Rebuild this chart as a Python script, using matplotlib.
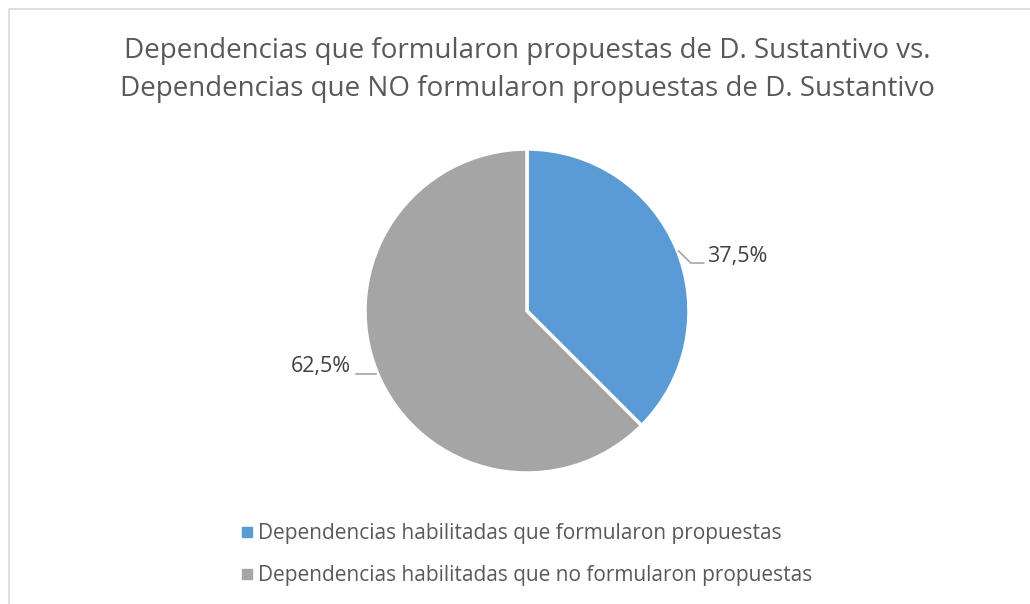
import numpy as np
import matplotlib
matplotlib.use("Agg")
import matplotlib.pyplot as plt
from matplotlib.lines import Line2D

plt.rcParams['font.family'] = ['Open Sans', 'DejaVu Sans']

# data
labels = ['Dependencias habilitadas que formularon propuestas',
          'Dependencias habilitadas que no formularon propuestas']
values = [37.5, 62.5]
colors = ['#5b9bd5', '#a5a5a5']
title = ('Dependencias que formularon propuestas de D. Sustantivo vs.\n'
         'Dependencias que NO formularon propuestas de D. Sustantivo')

W, H = 1030, 604
fig = plt.figure(figsize=(W / 100, H / 100), dpi=100)
ax = fig.add_axes([0, 0, 1, 1])

# chart border (cut off at right/bottom)
ax.plot([8.5, 8.5, W + 5], [-5, H - 8.5, H - 8.5], color='#d9d9d9', lw=1.2)

cx, cy, r = 527, H - 311, 162
wedges, _ = ax.pie(values, colors=colors, startangle=90, counterclock=False,
                   center=(cx, cy), radius=r, frame=True,
                   wedgeprops=dict(edgecolor='white', linewidth=2.5))
ax.set_xlim(0, W)
ax.set_ylim(0, H)
ax.set_aspect('equal')
ax.axis('off')

# data labels with leader lines
start = 90
for v, side in zip(values, [1, -1]):
    mid = np.deg2rad(start - v * 3.6 / 2)
    start -= v * 3.6
    ex, ey = cx + r * np.cos(mid), cy + r * np.sin(mid)
    txt = ('%.1f%%' % v).replace('.', ',')
    if side > 0:
        ax.plot([ex + 2, ex + 14, ex + 27], [ey - 2, ey - 14, ey - 14], color='#a6a6a6', lw=1.2)
        ax.text(ex + 30, ey - 7, txt, fontsize=15.5, color='#404040', va='center', ha='left')
    else:
        ax.plot([ex - 1, ex - 21], [ey - 1, ey - 1], color='#a6a6a6', lw=1.2)
        ax.text(ex - 26, ey + 6, txt, fontsize=15.5, color='#404040', va='center', ha='right')

ax.text(cx, H - 70, title, fontsize=20, color='#595959', ha='center', va='center',
        linespacing=1.45)

handles = [Line2D([], [], marker='s', linestyle='', color=c, markersize=7.5) for c in colors]
leg = ax.legend(handles, labels, loc='upper left', bbox_to_anchor=(233 / W, 1 - 515 / H),
                frameon=False, fontsize=15, labelcolor='#595959', handlelength=0.5,
                handletextpad=0.3, labelspacing=1.0, borderaxespad=0)

fig.savefig('out.png', dpi=100)
